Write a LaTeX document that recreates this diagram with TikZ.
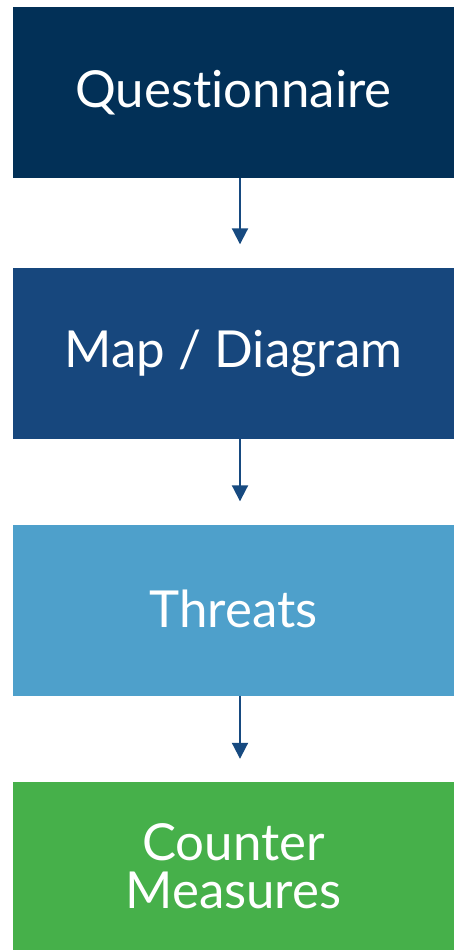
\documentclass[tikz,border=0pt]{standalone}
\usepackage{fontspec}
\setmainfont[Ligatures={NoCommon}]{Lato}
\usetikzlibrary{arrows.meta}
\definecolor{cA}{HTML}{023057}
\definecolor{cB}{HTML}{17477D}
\definecolor{cC}{HTML}{4EA0CB}
\definecolor{cD}{HTML}{46B04A}
\definecolor{cArr}{HTML}{174A80}
\begin{document}
\begin{tikzpicture}[x=1pt,y=-1pt,
  box/.style={draw=none,minimum width=441pt,minimum height=171pt,inner sep=0pt,
    text=white,font=\fontsize{51}{48}\selectfont,align=center},
  arr/.style={draw=cArr,line width=2pt,-{Triangle[width=16pt,length=16pt]},shorten >=23pt}]
\useasboundingbox (0,0) rectangle (454,950);
\fill[white] (0,0) rectangle (454,950);
\node[box,fill=cA] (b1) at (233.5,92.5) {Questionnaire};
\node[box,fill=cB] (b2) at (233.5,353) {Map / Diagram};
\node[box,fill=cC] (b3) at (233.5,610) {\raisebox{3pt}{Threats}};
\node[box,fill=cD,minimum height=168pt] (b4) at (233.5,866) {Counter\\Measures};
\draw[arr] ([xshift=6.5pt]b1.south) -- ([xshift=6.5pt]b2.north);
\draw[arr] ([xshift=6.5pt]b2.south) -- ([xshift=6.5pt]b3.north);
\draw[arr] ([xshift=6.5pt]b3.south) -- ([xshift=6.5pt]b4.north);
\end{tikzpicture}
\end{document}
